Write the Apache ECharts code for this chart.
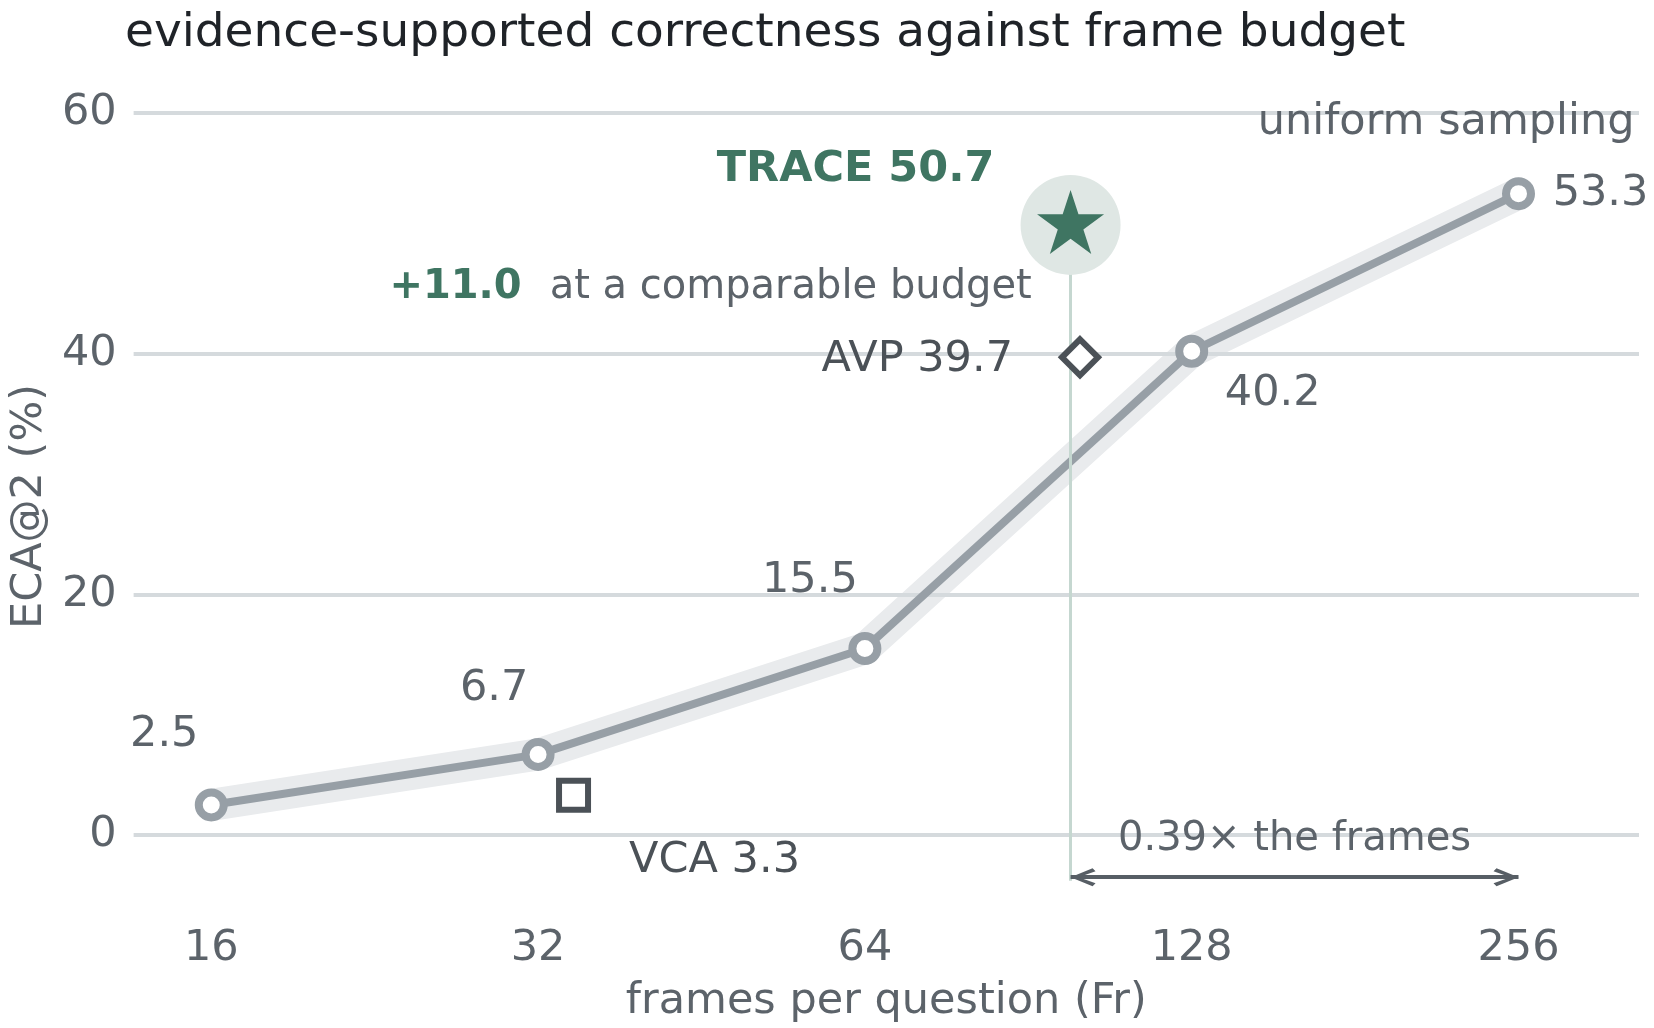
<!DOCTYPE html>
<html lang="en">
<head>
    <meta charset="UTF-8">
    <title>evidence-supported correctness against frame budget</title>
    <script src="https://cdn.jsdelivr.net/npm/echarts@6/dist/echarts.min.js"></script>
    <style>
        html, body { margin: 0; padding: 0; background: #fff; }
        #chart { width: 1654px; height: 1028px; }
    </style>
</head>
<body>
    <div id="chart"></div>
    <script>
        // uniform sampling curve
        const frames = [16, 32, 64, 128, 256];
        const eca = [2.5, 6.7, 15.5, 40.2, 53.3];
        const xTicks = [16, 32, 64, 128, 256];
        const yTicks = [0, 20, 40, 60];

        // other methods
        const traceFrames = 99;
        const traceEca = 50.7;
        const avpFrames = 101;
        const avpEca = 39.7;
        const vcaFrames = 34.5;
        const vcaEca = 3.3;
        const gain = 11.0;
        const frameRatio = 0.39;
        const arrowY = -3.5;

        // label offsets for the curve points (px)
        const labelOffsets = [[-47, -70], [-44, -66], [-55, -68], [81, 43], [82, 0]];

        const FONT = 'DejaVu Sans';
        const GREY = '#5c636a';
        const DARK = '#4b5157';
        const GREEN = '#3f7562';
        const lg = v => Math.log2(v);

        const starPath = 'path://M100,0 L122.45,69.1 L195.1,69.1 L136.3,111.8 L158.8,180.9 L100,138.2 L41.2,180.9 L63.7,111.8 L4.9,69.1 L77.55,69.1 Z';
        // open arrow head; the dummy point above keeps the tip at the symbol centre
        const chevron = 'path://M36,-100 L36.01,-100 Z M36,0 L72,88 L60,100 L36,32 L12,100 L0,88 Z';

        const curve = frames.map((f, i) => ({
            value: [lg(f), eca[i]],
            label: { offset: labelOffsets[i] }
        }));

        const chart = echarts.init(document.getElementById('chart'));
        chart.setOption({
            animation: false,
            textStyle: { fontFamily: FONT },
            title: {
                text: 'evidence-supported correctness against frame budget',
                left: 120,
                top: 5,
                textStyle: { fontFamily: FONT, fontSize: 47, fontWeight: 'normal', color: '#1f2328' }
            },
            grid: { left: 127, right: 15, top: 113, bottom: 127.5 },
            xAxis: {
                type: 'value',
                min: 3.7624,
                max: 8.3687,
                name: 'frames per question (Fr)',
                nameLocation: 'middle',
                nameGap: 80,
                nameTextStyle: { fontFamily: FONT, fontSize: 43, color: GREY },
                axisLine: { show: false },
                axisTick: { show: false },
                splitLine: { show: false },
                axisLabel: {
                    customValues: xTicks.map(lg),
                    formatter: v => String(Math.round(Math.pow(2, v))),
                    margin: 27,
                    fontFamily: FONT,
                    fontSize: 43,
                    color: GREY
                }
            },
            yAxis: {
                type: 'value',
                min: -5.4,
                max: 60,
                name: 'ECA@2 (%)',
                nameLocation: 'middle',
                nameGap: 82,
                nameRotate: 90,
                nameTextStyle: { fontFamily: FONT, fontSize: 43, color: GREY },
                axisLine: { show: false },
                axisTick: { show: false },
                splitLine: { show: false },
                axisLabel: {
                    customValues: yTicks,
                    margin: 17,
                    fontFamily: FONT,
                    fontSize: 43,
                    color: GREY
                }
            },
            series: [
                {
                    name: 'halo',
                    type: 'line',
                    data: frames.map((f, i) => [lg(f), eca[i]]),
                    symbol: 'none',
                    z: 1,
                    silent: true,
                    lineStyle: { color: '#e9ebed', width: 32, cap: 'round', join: 'round' }
                },
                {
                    // horizontal grid lines
                    name: 'grid',
                    type: 'line',
                    data: [],
                    z: 2,
                    silent: true,
                    markLine: {
                        z: 2,
                        silent: true,
                        symbol: ['none', 'none'],
                        label: { show: false },
                        lineStyle: { color: '#d5dadd', width: 4, type: 'solid' },
                        data: yTicks.map(v => ({ yAxis: v }))
                    }
                },
                {
                    name: 'uniform sampling',
                    type: 'line',
                    data: curve,
                    z: 3,
                    symbol: 'circle',
                    symbolSize: 25,
                    lineStyle: { color: '#979fa6', width: 8, join: 'round' },
                    itemStyle: { color: '#ffffff', borderColor: '#979fa6', borderWidth: 8 },
                    label: {
                        show: true,
                        position: 'inside',
                        formatter: p => p.value[1].toFixed(1),
                        fontFamily: FONT,
                        fontSize: 43,
                        color: GREY
                    }
                },
                {
                    // label anchored at the last curve point
                    name: 'uniform label',
                    type: 'scatter',
                    data: [[lg(frames[frames.length - 1]), eca[eca.length - 1]]],
                    symbolSize: 0,
                    silent: true,
                    z: 3,
                    itemStyle: { opacity: 1 },
                    label: {
                        show: true,
                        position: 'inside',
                        align: 'right',
                        offset: [116, -71],
                        formatter: 'uniform sampling',
                        fontFamily: FONT,
                        fontSize: 43,
                        color: GREY
                    }
                },
                {
                    name: 'TRACE halo',
                    type: 'scatter',
                    data: [[lg(traceFrames), traceEca]],
                    symbol: 'circle',
                    symbolSize: 100,
                    z: 4,
                    silent: true,
                    itemStyle: { color: '#dfe7e4', opacity: 1 },
                    label: {
                        show: true,
                        position: 'inside',
                        offset: [-360, 63],
                        formatter: '{b|+' + gain.toFixed(1) + '}{n|at a comparable budget}',
                        rich: {
                            b: { fontFamily: FONT, fontSize: 40, fontWeight: 'bold', color: GREEN, padding: [0, 28, 0, 0] },
                            n: { fontFamily: FONT, fontSize: 40, color: GREY }
                        }
                    },
                    markLine: {
                        z: 4,
                        silent: true,
                        symbol: ['none', 'none'],
                        label: { show: false },
                        lineStyle: { color: '#c5d7d0', width: 3, type: 'solid' },
                        data: [[
                            { coord: [lg(traceFrames), traceEca] },
                            { coord: [lg(traceFrames), -3.8] }
                        ]]
                    }
                },
                {
                    name: 'TRACE',
                    type: 'scatter',
                    data: [[lg(traceFrames), traceEca]],
                    symbol: starPath,
                    symbolSize: [67, 64],
                    symbolOffset: [0, -3],
                    z: 5,
                    itemStyle: { color: GREEN, opacity: 1 },
                    label: {
                        show: true,
                        position: 'inside',
                        offset: [-215, -52],
                        formatter: 'TRACE ' + traceEca.toFixed(1),
                        fontFamily: FONT,
                        fontSize: 43,
                        fontWeight: 'bold',
                        color: GREEN
                    }
                },
                {
                    name: 'AVP',
                    type: 'scatter',
                    data: [[lg(avpFrames), avpEca]],
                    symbol: 'diamond',
                    symbolSize: 36,
                    z: 5,
                    itemStyle: { color: '#ffffff', borderColor: DARK, borderWidth: 6, opacity: 1 },
                    label: {
                        show: true,
                        position: 'left',
                        distance: 46,
                        offset: [0, 3],
                        formatter: 'AVP ' + avpEca.toFixed(1),
                        fontFamily: FONT,
                        fontSize: 43,
                        color: DARK
                    }
                },
                {
                    name: 'VCA',
                    type: 'scatter',
                    data: [[lg(vcaFrames), vcaEca]],
                    symbol: 'rect',
                    symbolSize: 29,
                    z: 5,
                    itemStyle: { color: '#ffffff', borderColor: DARK, borderWidth: 6, opacity: 1 },
                    label: {
                        show: true,
                        position: 'inside',
                        offset: [141, 66],
                        formatter: 'VCA ' + vcaEca.toFixed(1),
                        fontFamily: FONT,
                        fontSize: 43,
                        color: DARK
                    }
                },
                {
                    // budget arrow
                    name: 'budget',
                    type: 'line',
                    data: [],
                    z: 5,
                    markLine: {
                        z: 5,
                        silent: true,
                        symbol: [chevron, chevron],
                        symbolSize: [18, 50],
                        lineStyle: { color: '#575e65', width: 4, type: 'solid' },
                        label: {
                            show: true,
                            position: 'middle',
                            distance: 18,
                            formatter: frameRatio.toFixed(2) + '\u00d7 the frames',
                            fontFamily: FONT,
                            fontSize: 40,
                            color: GREY
                        },
                        data: [[
                            { coord: [lg(traceFrames), arrowY] },
                            { coord: [lg(frames[frames.length - 1]), arrowY] }
                        ]]
                    }
                }
            ]
        });
    </script>
</body>
</html>
